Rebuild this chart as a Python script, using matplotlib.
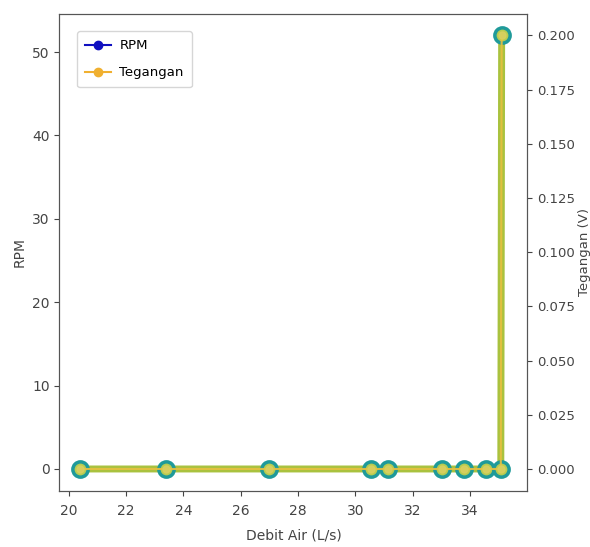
import matplotlib
matplotlib.use("Agg")
import matplotlib.pyplot as plt
from matplotlib.lines import Line2D

debit_air = [20.4, 23.4, 27.0, 30.55, 31.15, 33.03, 33.8, 34.54, 35.07, 35.1]
rpm = [0, 0, 0, 0, 0, 0, 0, 0, 0, 52]
tegangan = [0, 0, 0, 0, 0, 0, 0, 0, 0, 0.2]

fig = plt.figure(figsize=(5.9, 5.47), dpi=100)
ax1 = fig.add_axes([0.1005, 0.103, 0.7935, 0.872])
ax2 = ax1.twinx()

ax1.plot(debit_air, rpm, color='#a9c23f', lw=5, marker='o', ms=11,
         markerfacecolor='#b8cc50', markeredgecolor='#1f9a9a', mew=2.5, zorder=2)
ax2.plot(debit_air, tegangan, color='#e8c040', lw=1.5, marker='o', ms=5,
         markerfacecolor='#d8d060', markeredgecolor='#d8d060', alpha=0.9, zorder=3)

ax1.set_xlabel('Debit Air (L/s)', color='#444444', labelpad=8)
ax1.set_ylabel('RPM', color='#444444')
ax2.set_ylabel('Tegangan (V)', color='#444444', labelpad=2, fontsize=9.5)
ax1.set_xticks([20, 22, 24, 26, 28, 30, 32, 34])
ax1.set_yticks([0, 10, 20, 30, 40, 50])
ax2.set_yticks([0.0, 0.025, 0.05, 0.075, 0.1, 0.125, 0.15, 0.175, 0.2])
ax2.set_yticklabels(['0.000', '0.025', '0.050', '0.075', '0.100', '0.125', '0.150', '0.175', '0.200'])
ax1.set_ylim(-2.6, 54.6)
ax2.set_ylim(-0.01, 0.21)
ax1.set_xlim(19.67, 36.0)

ax1.tick_params(axis='x', pad=6)
ax2.tick_params(axis='y', labelsize=9.5)
for ax in (ax1, ax2):
    ax.tick_params(colors='#444444')
    for s in ax.spines.values():
        s.set_color('#555555')

handles = [
    Line2D([], [], color='#1010c0', marker='o', ms=6, lw=1.5),
    Line2D([], [], color='#f0b030', marker='o', ms=6, lw=1.5),
]
ax1.legend(handles, ['RPM', 'Tegangan'], loc='upper left', borderpad=0.6,
           labelspacing=1.05, handletextpad=0.6, borderaxespad=1.35, fontsize=9.5)

fig.savefig('out.png', dpi=100)
